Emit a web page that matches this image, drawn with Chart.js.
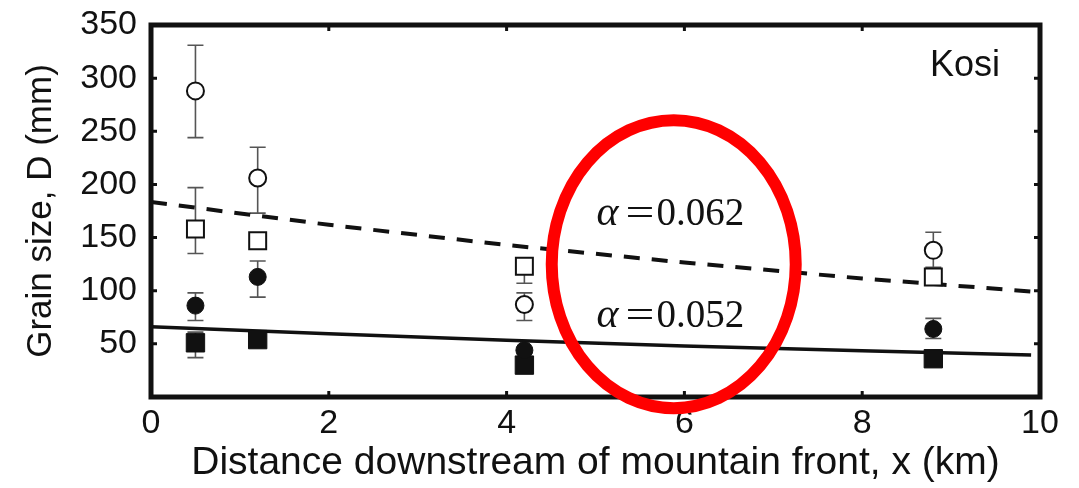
<!DOCTYPE html>
<html>
<head>
<meta charset="utf-8">
<script src="https://cdn.jsdelivr.net/npm/chart.js@4"></script>
<style>
  html, body { margin: 0; padding: 0; background: #fff; }
  canvas { display: block; }
</style>
</head>
<body>
<canvas id="c" width="1079" height="488"></canvas>
<script>
// Sampling sites (km downstream of the mountain front)
const sites = [0.5, 1.2, 4.2, 8.8];

// Grain sizes (mm) with their error ranges
const openCircle      = [288, 206, 87, 138];
const openCircleLow   = [244, 173, 72, 122];
const openCircleHigh  = [331, 235, 98, 155];

const openSquare      = [158, 147, 123, 113];
const openSquareLow   = [135, null, 107, null];
const openSquareHigh  = [197, null, 129, null];

const filledCircle     = [86, 113, 44, 64];
const filledCircleLow  = [72, 94, null, 55];
const filledCircleHigh = [98, 128, null, 74];

const filledSquare     = [51, 54, 30, 36];
const filledSquareLow  = [37, null, null, null];
const filledSquareHigh = [61, null, null, null];

// Exponential fit curves
const fitX      = [0, 2, 4, 6, 8, 9.9];
const fitCoarse = [183.5, 162, 143, 126.5, 111.5, 99.3];
const fitFine   = [66, 59.5, 53.5, 48, 43.5, 39.4];

// Axis ticks
const xTicks = [0, 2, 4, 6, 8, 10];
const yTicks = [0, 50, 100, 150, 200, 250, 300, 350];

// Text labels
const riverName = 'Kosi';
const alphaCoarse = '0.062';
const alphaFine = '0.052';

const pairs = (xs, ys) => xs.map((x, i) => ({ x, y: ys[i] }));

const INK = '#111';
const SANS = '"Liberation Sans", Arial, sans-serif';
const SERIF = '"Liberation Serif", "Times New Roman", serif';

const errorBars = {
  id: 'errorBars',
  beforeDatasetsDraw(chart) {
    const { ctx, scales: { x, y } } = chart;
    ctx.save();
    ctx.strokeStyle = '#555';
    ctx.lineWidth = 1.6;
    chart.data.datasets.forEach(ds => {
      if (!ds.errLow) return;
      ds.data.forEach((p, i) => {
        const lo = ds.errLow[i], hi = ds.errHigh[i];
        if (lo == null && hi == null) return;
        const px = x.getPixelForValue(p.x);
        const cap = 8;
        ctx.beginPath();
        [lo, hi].forEach(v => {
          if (v == null) return;
          const py = y.getPixelForValue(v);
          ctx.moveTo(px, y.getPixelForValue(p.y));
          ctx.lineTo(px, py);
          ctx.moveTo(px - cap, py);
          ctx.lineTo(px + cap, py);
        });
        ctx.stroke();
      });
    });
    ctx.restore();
  }
};

const frameAndNotes = {
  id: 'frameAndNotes',
  afterDraw(chart) {
    const { ctx, chartArea: a, scales: { x, y } } = chart;
    ctx.save();
    // frame
    ctx.strokeStyle = INK;
    ctx.lineWidth = 5;
    ctx.strokeRect(a.left, a.top, a.right - a.left, a.bottom - a.top);
    // inward ticks
    ctx.lineWidth = 3;
    ctx.beginPath();
    xTicks.forEach(v => {
      const px = x.getPixelForValue(v);
      ctx.moveTo(px, a.bottom); ctx.lineTo(px, a.bottom - 6);
      ctx.moveTo(px, a.top); ctx.lineTo(px, a.top + 6);
    });
    yTicks.forEach(v => {
      const py = y.getPixelForValue(v);
      ctx.moveTo(a.left, py); ctx.lineTo(a.left + 6, py);
      ctx.moveTo(a.right, py); ctx.lineTo(a.right - 6, py);
    });
    ctx.stroke();

    // river name
    ctx.fillStyle = INK;
    ctx.font = '36px ' + SANS;
    ctx.textAlign = 'right';
    ctx.textBaseline = 'alphabetic';
    ctx.fillText(riverName, x.getPixelForValue(9.55), y.getPixelForValue(302));

    // alpha labels
    const alphaLabel = (val, xv, yv) => {
      const px = x.getPixelForValue(xv);
      const py = y.getPixelForValue(yv);
      ctx.textAlign = 'left';
      ctx.font = 'italic 42px ' + SERIF;
      ctx.fillText('\u03b1', px, py);
      ctx.save();
      ctx.translate(px + 29, py);
      ctx.scale(1.35, 1);
      ctx.font = '38px ' + SERIF;
      ctx.fillText('=', 0, 0);
      ctx.restore();
      ctx.font = '39px ' + SERIF;
      ctx.fillText(val, px + 60, py);
    };
    alphaLabel(alphaCoarse, 5.01, 161.8);
    alphaLabel(alphaFine, 5.01, 65.9);

    // red highlight ellipse
    ctx.strokeStyle = '#ff0000';
    ctx.lineWidth = 12;
    ctx.beginPath();
    ctx.ellipse(x.getPixelForValue(5.88), y.getPixelForValue(125), 122, 144, 0, 0, Math.PI * 2);
    ctx.stroke();
    ctx.restore();
  }
};

new Chart(document.getElementById('c'), {
  type: 'scatter',
  data: {
    datasets: [
      {
        type: 'line', data: pairs(fitX, fitCoarse), borderColor: INK, borderWidth: 4,
        borderDash: [16, 12], pointRadius: 0, fill: false, order: 10
      },
      {
        type: 'line', data: pairs(fitX, fitFine), borderColor: INK, borderWidth: 3.5,
        pointRadius: 0, fill: false, order: 10
      },
      {
        data: pairs(sites, openCircle), errLow: openCircleLow, errHigh: openCircleHigh,
        pointStyle: 'circle', pointRadius: 8.5, backgroundColor: '#fff',
        borderColor: INK, borderWidth: 2, order: 1
      },
      {
        data: pairs(sites, openSquare), errLow: openSquareLow, errHigh: openSquareHigh,
        pointStyle: 'rect', pointRadius: 12, backgroundColor: '#fff',
        borderColor: INK, borderWidth: 2, order: 1
      },
      {
        data: pairs(sites, filledCircle), errLow: filledCircleLow, errHigh: filledCircleHigh,
        pointStyle: 'circle', pointRadius: 8.5, backgroundColor: INK,
        borderColor: INK, borderWidth: 1, order: 0
      },
      {
        data: pairs(sites, filledSquare), errLow: filledSquareLow, errHigh: filledSquareHigh,
        pointStyle: 'rect', pointRadius: 13, backgroundColor: INK,
        borderColor: INK, borderWidth: 1, order: 0
      }
    ]
  },
  options: {
    responsive: false,
    animation: false,
    events: [],
    layout: { padding: { top: 25, right: 39, bottom: 0, left: 0 } },
    plugins: { legend: { display: false }, tooltip: { enabled: false } },
    scales: {
      x: {
        type: 'linear', min: 0, max: 10,
        grid: { display: false, drawTicks: false },
        border: { display: false },
        afterBuildTicks: s => { s.ticks = xTicks.map(v => ({ value: v })); },
        afterFit: s => { s.height = 91; s.paddingLeft = 0; s.paddingRight = 0; },
        ticks: { color: INK, font: { family: SANS, size: 34 }, padding: 6, maxRotation: 0 },
        title: {
          display: true, text: 'Distance downstream of mountain front, x (km)',
          color: INK, font: { family: SANS, size: 39 }, padding: { top: 0, bottom: 1 }
        }
      },
      y: {
        type: 'linear', min: 0, max: 350,
        grid: { display: false, drawTicks: false },
        border: { display: false },
        afterBuildTicks: s => { s.ticks = yTicks.map(v => ({ value: v })); },
        afterFit: s => { s.width = 151; s.paddingTop = 0; s.paddingBottom = 0; },
        ticks: {
          color: INK, font: { family: SANS, size: 34 }, padding: 14,
          callback: v => (v === 0 ? '' : String(v))
        },
        title: {
          display: true, text: 'Grain size, D (mm)',
          color: INK, font: { family: SANS, size: 35 }, padding: { top: 20, bottom: 0 }
        }
      }
    }
  },
  plugins: [errorBars, frameAndNotes]
});
</script>
</body>
</html>
